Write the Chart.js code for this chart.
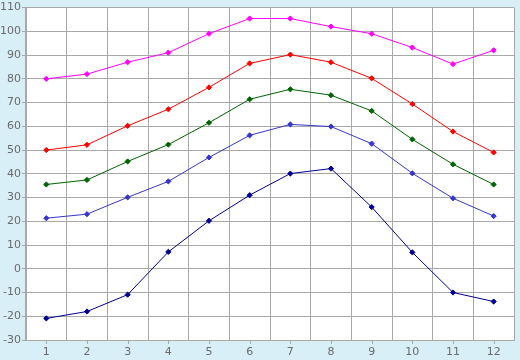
<!DOCTYPE html>
<html>
<head>
<meta charset="utf-8">
<script src="https://cdn.jsdelivr.net/npm/chart.js@4/dist/chart.umd.min.js"></script>
<style>
  html, body { margin: 0; padding: 0; background: #d9eff7; }
  #wrap { width: 520px; height: 360px; }
</style>
</head>
<body>
<div id="wrap"><canvas id="chart" width="520" height="360"></canvas></div>
<script>
const months = ['1', '2', '3', '4', '5', '6', '7', '8', '9', '10', '11', '12'];
const magentaVals = [80, 82, 87, 91, 99, 105.4, 105.4, 102, 99, 93.2, 86.2, 92];
const redVals = [50, 52.2, 60.2, 67.2, 76.4, 86.5, 90.2, 87, 80.2, 69.4, 57.8, 49];
const greenVals = [35.5, 37.4, 45.2, 52.3, 61.5, 71.4, 75.6, 73.1, 66.5, 54.5, 44, 35.5];
const blueVals = [21.3, 23, 30.1, 36.8, 46.9, 56.2, 60.8, 59.9, 52.7, 40.2, 29.7, 22.2];
const navyVals = [-20.9, -18, -10.9, 7.1, 20.2, 31, 40.1, 42.2, 26, 6.9, -10, -13.8];
const yMin = -30, yMax = 110, yStep = 10;

const gridColor = '#a8a8a8';
const textColor = '#6a6a6a';

const mkSet = (data, color) => ({
    data: data,
    borderColor: color,
    backgroundColor: color,
    borderWidth: 1,
    pointStyle: 'rectRot',
    pointRadius: 2.6,
    pointHoverRadius: 2.6,
    pointBorderWidth: 1,
    tension: 0,
    fill: false
});

// little tick marks under each category (grid lines sit between them)
const xTicks = {
    id: 'xTicks',
    afterDraw(chart) {
        const ctx = chart.ctx;
        const x = chart.scales.x;
        const bottom = chart.chartArea.bottom;
        ctx.save();
        ctx.strokeStyle = gridColor;
        ctx.lineWidth = 1;
        months.forEach((m, i) => {
            const px = Math.round(x.getPixelForValue(i)) + 0.5;
            ctx.beginPath();
            ctx.moveTo(px, bottom);
            ctx.lineTo(px, bottom + 4);
            ctx.stroke();
        });
        ctx.restore();
    }
};

const plotBg = {
    id: 'plotBg',
    beforeDraw(chart) {
        const { ctx, chartArea: a } = chart;
        ctx.save();
        ctx.fillStyle = '#ffffff';
        ctx.fillRect(a.left, a.top, a.right - a.left, a.bottom - a.top);
        ctx.restore();
    }
};

new Chart(document.getElementById('chart').getContext('2d'), {
    type: 'line',
    data: {
        labels: months,
        datasets: [
            mkSet(magentaVals, '#ff00ff'),
            mkSet(redVals, '#ff0000'),
            mkSet(greenVals, '#006400'),
            mkSet(blueVals, '#3535d0'),
            mkSet(navyVals, '#000099')
        ]
    },
    options: {
        responsive: false,
        animation: false,
        layout: { padding: { top: 5, right: 6, left: 0, bottom: 0 } },
        plugins: {
            legend: { display: false },
            tooltip: { enabled: false }
        },
        scales: {
            x: {
                offset: true,
                grid: {
                    offset: true,
                    color: gridColor,
                    lineWidth: 1,
                    drawTicks: false
                },
                border: { color: gridColor, width: 1 },
                ticks: {
                    color: textColor,
                    font: { family: 'DejaVu Sans', size: 11 },
                    padding: 6,
                    maxRotation: 0,
                    autoSkip: false
                },
                afterFit: (s) => { s.height = 20; }
            },
            y: {
                min: yMin,
                max: yMax,
                grid: {
                    color: gridColor,
                    lineWidth: 1,
                    tickLength: 4
                },
                border: { color: gridColor, width: 1 },
                ticks: {
                    stepSize: yStep,
                    color: textColor,
                    font: { family: 'DejaVu Sans', size: 11 },
                    padding: 1
                },
                afterFit: (s) => { s.width = 26; }
            }
        }
    },
    plugins: [plotBg, xTicks]
});
</script>
</body>
</html>
